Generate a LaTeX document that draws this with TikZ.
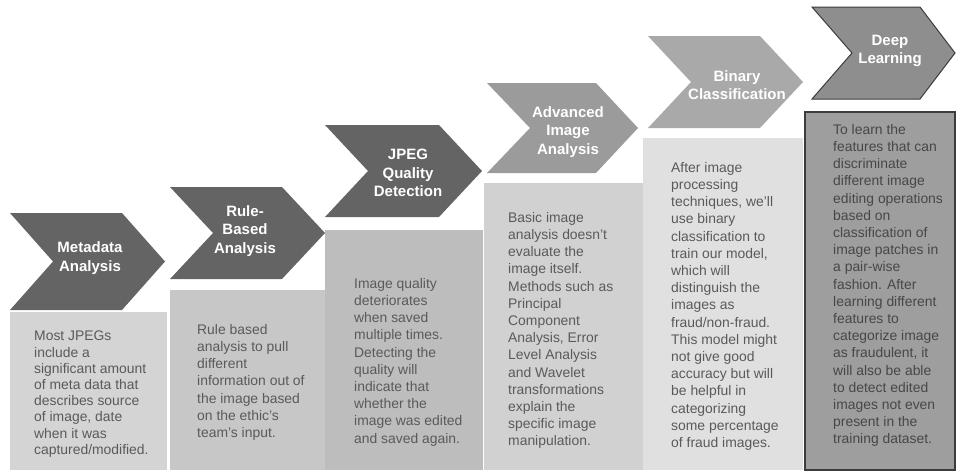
\documentclass[tikz,border=0pt]{standalone}
\usepackage{fontspec}
\setmainfont{Liberation Sans}
\usepackage{xcolor}
\usetikzlibrary{positioning}
\definecolor{chevdark}{HTML}{646464}
\definecolor{chevmid}{HTML}{9B9B9B}
\definecolor{chevlight}{HTML}{A9A9A9}
\definecolor{chevdeep}{HTML}{8E8E8E}
\definecolor{bodytext}{HTML}{5A5A5A}
\definecolor{edge}{HTML}{3C3C3C}

\begin{document}
\begin{tikzpicture}[
  x=1pt,y=-1pt,
  every node/.style={inner sep=0pt},
  chev/.style={fill=chevdark},
  panel/.style={fill=#1},
  head/.style={text=white,align=center,font=\fontsize{15}{18.5}\selectfont\bfseries},
  body/.style={anchor=north west,text=bodytext,align=left,font=\fontsize{13.9}{17.2}\selectfont}]
  \useasboundingbox (0,0) rectangle (956,472);
  % panels, left to right
  \fill[panel=black!17] (10,312) rectangle (167,470);
  \fill[panel=black!22] (170,290) rectangle (328,470);
  \fill[panel=black!26] (325,230) rectangle (483,470);
  \fill[panel=black!18] (484,183) rectangle (643,470);
  \fill[panel=black!12] (643,138) rectangle (803,470);
  \draw[panel=black!38,draw=edge,line width=1.5pt] (805,112) rectangle (955,470);
  % chevrons
  \fill[chev] (10,213) -- (122,213) -- (165,261.5) -- (122,310) -- (10,310) -- (53,261.5) -- cycle;
  \fill[chev] (170,187) -- (282,187) -- (325,233) -- (282,279) -- (170,279) -- (213,233) -- cycle;
  \fill[chev] (325,125) -- (439,125) -- (482,171) -- (439,217) -- (325,217) -- (368,171) -- cycle;
  \fill[chevmid] (487,83) -- (596,83) -- (638,128) -- (596,173) -- (487,173) -- (530,128) -- cycle;
  \fill[chevlight] (648,36) -- (760,36) -- (803,82) -- (760,128) -- (648,128) -- (691,82) -- cycle;
  \draw[fill=chevdeep,draw=edge,line width=1pt] (812,7) -- (920,7) -- (955,53) -- (920,99) -- (812,99) -- (852,53) -- cycle;
  % headings
  \node[head] (meta) at (90,258) {Metadata\\Analysis};
  \node[head] (rule) at (245,231) {Rule-\\Based\\Analysis};
  \node[head] (jpeg) at (408,173) {JPEG\\Quality\\Detection};
  \node[head] (adv)  at (568,132) {Advanced\\Image\\Analysis};
  \node[head] (bin)  at (737,85)  {Binary\\Classification};
  \node[head] (deep) at (890,51)  {Deep\\Learning};
  % panel texts
  \node[body,font=\fontsize{13.9}{16.2}\selectfont] (metatxt) at (34,331) {Most JPEGs\\include a\\significant amount\\of meta data that\\describes source\\of image, date\\when it was\\captured/modified.};
  \node[body] (ruletxt) at (197,324) {Rule based\\analysis to pull\\different\\information out of\\the image based\\on the ethic’s\\team’s input.};
  \node[body] (jpegtxt) at (354,278) {Image quality\\deteriorates\\when saved\\multiple times.\\Detecting the\\quality will\\indicate that\\whether the\\image was edited\\and saved again.};
  \node[body] (advtxt)  at (508,212) {Basic image\\analysis doesn’t\\evaluate the\\image itself.\\Methods such as\\Principal\\Component\\Analysis, Error\\Level Analysis\\and Wavelet\\transformations\\explain the\\specific image\\manipulation.};
  \node[body] (bintxt)  at (671,162) {After image\\processing\\techniques, we’ll\\use binary\\classification to\\train our model,\\which will\\distinguish the\\images as\\fraud/non-fraud.\\This model might\\not give good\\accuracy but will\\be helpful in\\categorizing\\some percentage\\of fraud images.};
  \node[body,text=black!72] (deeptxt) at (833,124) {To learn the\\features that can\\discriminate\\different image\\editing operations\\based on\\classification of\\image patches in\\a pair-wise\\fashion. After\\learning different\\features to\\categorize image\\as fraudulent, it\\will also be able\\to detect edited\\images not even\\present in the\\training dataset.};
\end{tikzpicture}
\end{document}
